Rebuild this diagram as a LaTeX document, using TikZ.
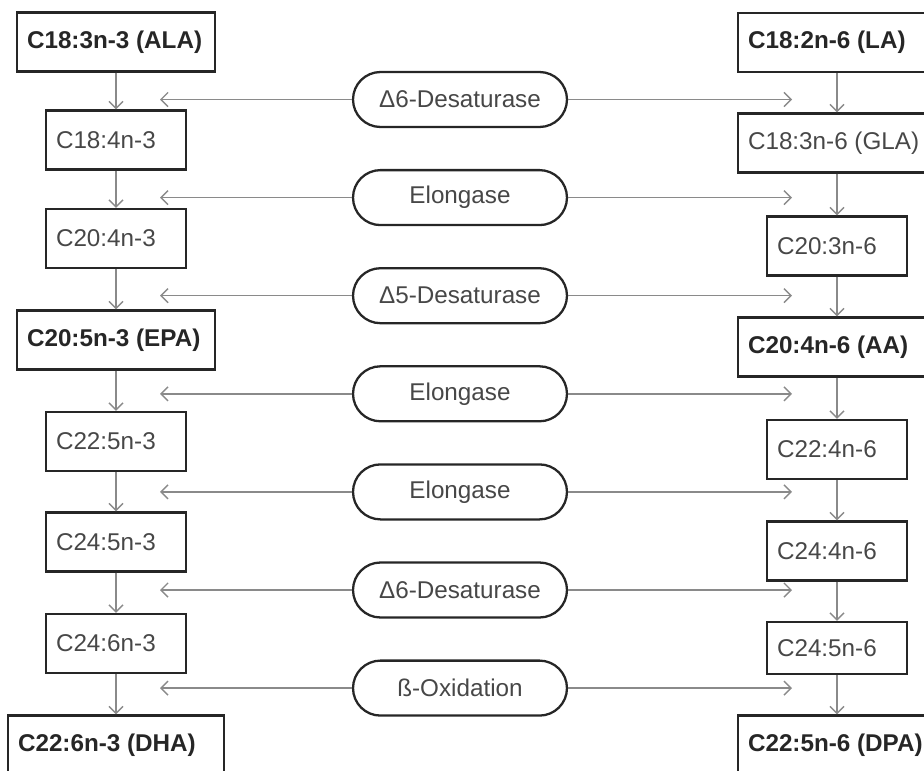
\documentclass[tikz,border=0pt]{standalone}
\usepackage{fontspec}
\setmainfont{Liberation Sans}
\usepackage{xcolor}
\usetikzlibrary{arrows.meta,positioning}
\definecolor{grey}{HTML}{8A8A8A}
\definecolor{ink}{HTML}{262626}
\definecolor{soft}{HTML}{474747}
\newcommand{\labelsize}{\fontsize{13.8}{16}\selectfont}
\tikzset{%
  arrow/.style={grey,line width=0.8pt,-{Straight Barb[length=4pt,width=8pt]}},
  acid/.style={rectangle,draw=ink,line width=1.3pt,text=soft,inner xsep=0.2cm,
    inner ysep=0pt,font=\labelsize,align=flush left,text width=2.4cm,
    minimum height=1.18cm},
  wide/.style={acid,text width=3.56cm},
  major/.style={wide,text=ink,font=\labelsize\bfseries},
  enzyme/.style={rectangle,rounded corners=0.55cm,draw=ink,line width=1.3pt,
    text=soft,font=\labelsize,minimum width=4.28cm,minimum height=1.1cm},
}

\begin{document}
\begin{tikzpicture}[x=0.02cm,y=-0.02cm]
    \clip (0,0) rectangle (924,771);

    % n-3 series
    \node[major] (la) at (116,42) {C18:3n-3~(ALA)};
    \node[acid] (lb) at (116,140) {C18:4n-3};
    \node[acid] (lc) at (116,238.5) {C20:4n-3};
    \node[major] (ld) at (116,340) {C20:5n-3~(EPA)};
    \node[acid] (le) at (116,441.5) {C22:5n-3};
    \node[acid] (lf) at (116,542) {C24:5n-3};
    \node[acid] (lg) at (116,643.5) {C24:6n-3};
    \node[major,text width=3.92cm] (lh) at (116,745) {C22:6n-3~(DHA)};

    % n-6 series
    \node[major] (ra) at (837,42.5) {C18:2n-6~(LA)};
    \node[wide] (rb) at (837,143) {C18:3n-6~(GLA)};
    \node[acid] (rc) at (837,246) {C20:3n-6};
    \node[major] (rd) at (837,347) {C20:4n-6~(AA)};
    \node[acid] (re) at (837,449.5) {C22:4n-6};
    \node[acid] (rf) at (837,551) {C24:4n-6};
    \node[acid,minimum height=1.04cm] (rg) at (837,648) {C24:5n-6};
    \node[major] (rh) at (837,745) {C22:5n-6~(DPA)};

    \foreach \a/\b in {a/b,b/c,c/d,d/e,e/f,f/g,g/h} {
      \draw[arrow] (l\a.south) -- (l\b.north);
      \draw[arrow] (r\a.south) -- (r\b.north);
    }

    % enzymes in the middle
    \foreach \txt [count=\i] in {Δ6-Desaturase,Elongase,Δ5-Desaturase,Elongase,
        Elongase,Δ6-Desaturase,ß-Oxidation} {
      \node[enzyme] (e\i) at (460,1.4+98.1*\i) {\txt};
      \coordinate (el\i) at (160,1.4+98.1*\i);
      \coordinate (er\i) at (792,1.4+98.1*\i);
      \draw[arrow] (e\i.west) -- (el\i);
      \draw[arrow] (e\i.east) -- (er\i);
    }
  \end{tikzpicture}
\end{document}
